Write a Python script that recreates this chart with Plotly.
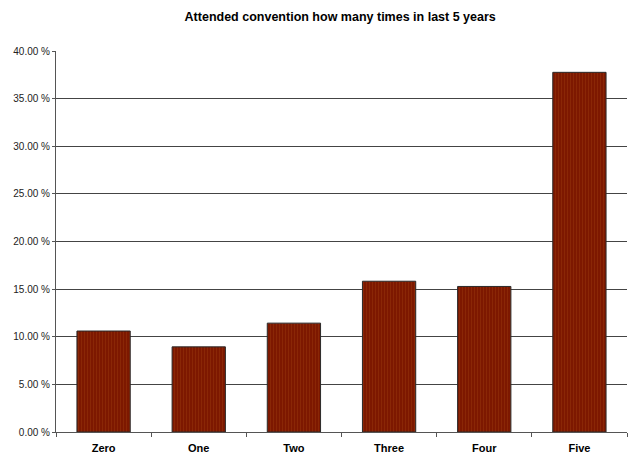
import plotly.graph_objects as go

categories = ["Zero", "One", "Two", "Three", "Four", "Five"]
values = [0.1060, 0.0894, 0.1143, 0.1583, 0.1528, 0.3776]
y_ticks = [0, 0.05, 0.10, 0.15, 0.20, 0.25, 0.30, 0.35, 0.40]
y_tick_text = ["0.00 %", "5.00 %", "10.00 %", "15.00 %", "20.00 %",
               "25.00 %", "30.00 %", "35.00 %", "40.00 %"]

fig = go.Figure(go.Bar(
    x=categories, y=values, width=0.56,
    marker=dict(color="#7d1800", line=dict(color="#2a2a2a", width=1),
                pattern=dict(shape="|", fgcolor="#9a3a0c", bgcolor="#7d1800",
                             size=3, solidity=0.3)),
))

fig.update_layout(
    width=630, height=453,
    margin=dict(l=56, r=3, t=51, b=21),
    paper_bgcolor="white", plot_bgcolor="white",
    showlegend=False,
    title=dict(text="<b>Attended convention how many times in last 5 years</b>",
               x=0.54, xanchor="center", y=0.972, yanchor="top",
               font=dict(family="Liberation Sans, Arial", size=12.5, color="black")),
)
fig.update_xaxes(
    automargin=False,
    showline=True, linecolor="#555", linewidth=1,
    ticks="outside", tickson="boundaries", ticklen=4, tickcolor="#555",
    ticklabelstandoff=6,
    tickfont=dict(family="Liberation Sans, Arial", size=11, color="black"),
    tickprefix="<b>", ticksuffix="</b>", range=[-0.5, 5.5],
)
fig.update_yaxes(
    automargin=False,
    range=[0, 0.4], tickvals=y_ticks, ticktext=y_tick_text,
    showline=True, linecolor="#555", linewidth=1,
    showgrid=True, gridcolor="#444", gridwidth=1,
    ticks="outside", ticklen=3, tickcolor="#555",
    tickfont=dict(family="Liberation Sans, Arial", size=10, color="#222"),
    zeroline=False,
)
fig.write_html("out.html", config={"displayModeBar": False},
               post_script="document.body.style.margin='0';document.body.style.overflow='hidden';")
